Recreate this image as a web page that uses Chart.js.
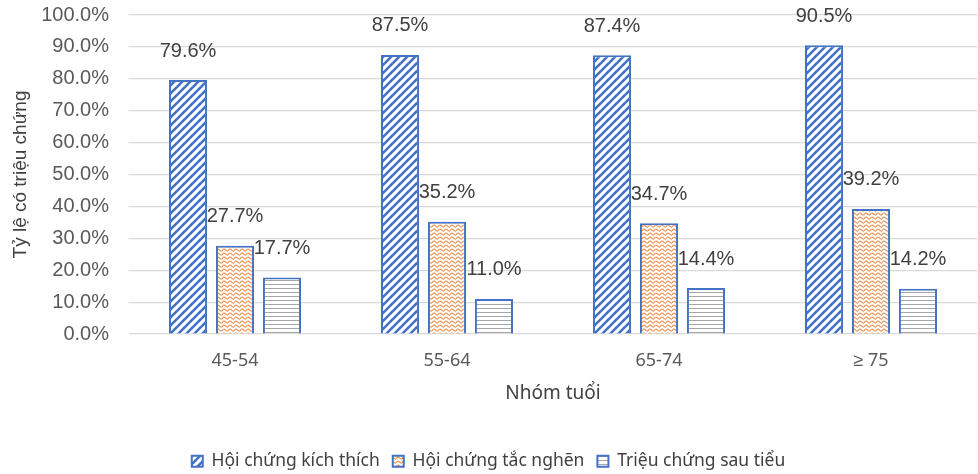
<!DOCTYPE html>
<html>
<head>
<meta charset="utf-8">
<script src="https://cdn.jsdelivr.net/npm/chart.js@4/dist/chart.umd.min.js"></script>
<style>
  html, body { margin: 0; padding: 0; background: #ffffff; }
  #wrap { width: 978px; height: 474px; }
</style>
</head>
<body>
<div id="wrap"><canvas id="c" width="978" height="474"></canvas></div>
<script>
// Age groups and symptom prevalence (%)
const ageGroups = ['45-54', '55-64', '65-74', '\u2265 75'];
const seriesNames = ['Hội chứng kích thích', 'Hội chứng tắc nghẽn', 'Triệu chứng sau tiểu'];
const irritative = [79.6, 87.5, 87.4, 90.5];
const obstructive = [27.7, 35.2, 34.7, 39.2];
const postMicturition = [17.7, 11.0, 14.4, 14.2];
const yTicks = [0, 10, 20, 30, 40, 50, 60, 70, 80, 90, 100];

const BLUE = '#4472C4';

// Fill patterns for the three series
function tile(w, h, draw) {
  const cv = document.createElement('canvas');
  cv.width = w; cv.height = h;
  const g = cv.getContext('2d');
  g.fillStyle = '#ffffff';
  g.fillRect(0, 0, w, h);
  draw(g, w, h);
  return document.getElementById('c').getContext('2d').createPattern(cv, 'repeat');
}

const diagPattern = tile(8, 8, (g) => {
  g.strokeStyle = BLUE;
  g.lineWidth = 2.6;
  g.lineCap = 'square';
  [-8, 0, 8].forEach((ox) => {
    g.beginPath();
    g.moveTo(ox - 1, 9);
    g.lineTo(ox + 9, -1);
    g.stroke();
  });
});

const wavePattern = tile(6, 4, (g) => {
  g.strokeStyle = 'rgba(237,125,49,0.95)';
  g.lineWidth = 1.1;
  g.beginPath();
  g.moveTo(0, 3);
  g.quadraticCurveTo(1.5, 0, 3, 1.5);
  g.quadraticCurveTo(4.5, 3.5, 6, 3);
  g.stroke();
});

const hLinePattern = tile(4, 4, (g) => {
  g.fillStyle = '#a6a6a6';
  g.fillRect(0, 0, 4, 1);
});

// Value labels above each bar
const valueLabels = {
  id: 'valueLabels',
  afterDatasetsDraw(chart) {
    const ctx = chart.ctx;
    ctx.save();
    ctx.font = '20px "Liberation Sans", Arial, sans-serif';
    ctx.fillStyle = '#404040';
    ctx.textAlign = 'center';
    ctx.textBaseline = 'middle';
    chart.data.datasets.forEach((ds, i) => {
      chart.getDatasetMeta(i).data.forEach((bar, j) => {
        ctx.fillText(ds.data[j].toFixed(1) + '%', bar.x, bar.y - 29);
      });
    });
    ctx.restore();
  }
};

const series = [irritative, obstructive, postMicturition];
const fills = [diagPattern, wavePattern, hLinePattern];

new Chart(document.getElementById('c'), {
  type: 'bar',
  data: {
    labels: ageGroups,
    datasets: series.map((vals, i) => ({
      label: seriesNames[i],
      data: vals,
      backgroundColor: fills[i],
      borderColor: BLUE,
      borderWidth: 2,
      borderSkipped: 'start',
      categoryPercentage: 0.665,
      barPercentage: 0.81
    }))
  },
  options: {
    responsive: false,
    animation: false,
    devicePixelRatio: 1,
    layout: { padding: { top: 15, right: 1, bottom: -6, left: 0 } },
    plugins: {
      legend: {
        position: 'bottom',
        labels: {
          boxWidth: 11,
          boxHeight: 11,
          padding: 13,
          color: '#404040',
          font: { family: '"Noto Sans", sans-serif', size: 17.5, lineHeight: 1 }
        }
      },
      tooltip: { enabled: false }
    },
    scales: {
      x: {
        grid: { display: false, drawTicks: false },
        border: { display: false },
        ticks: {
          padding: 16,
          color: '#595959',
          font: { family: '"Noto Sans", sans-serif', size: 18 }
        },
        title: {
          display: true,
          text: 'Nhóm tuổi',
          color: '#404040',
          font: { family: '"Noto Sans", sans-serif', size: 19 },
          padding: { top: 0, bottom: 35 }
        },
        afterFit(scale) { scale.height = 105.5; }
      },
      y: {
        min: 0,
        max: 100,
        afterBuildTicks(scale) { scale.ticks = yTicks.map(v => ({ value: v })); },
        grid: { color: '#d9d9d9', lineWidth: 1.2, drawTicks: false },
        border: { display: false },
        ticks: {
          padding: 20,
          color: '#595959',
          font: { family: '"Liberation Sans", Arial, sans-serif', size: 20 },
          callback: (v) => v.toFixed(1) + '%'
        },
        title: {
          display: true,
          text: 'Tỷ lệ có triệu chứng',
          color: '#404040',
          font: { family: '"Liberation Sans", Arial, sans-serif', size: 19 },
          padding: { top: 9.5, bottom: 0 }
        },
        afterFit(scale) {
          scale.width = 129;
          scale.paddingTop = 0;
          scale.paddingBottom = 0;
        }
      }
    }
  },
  plugins: [valueLabels]
});
</script>
</body>
</html>
